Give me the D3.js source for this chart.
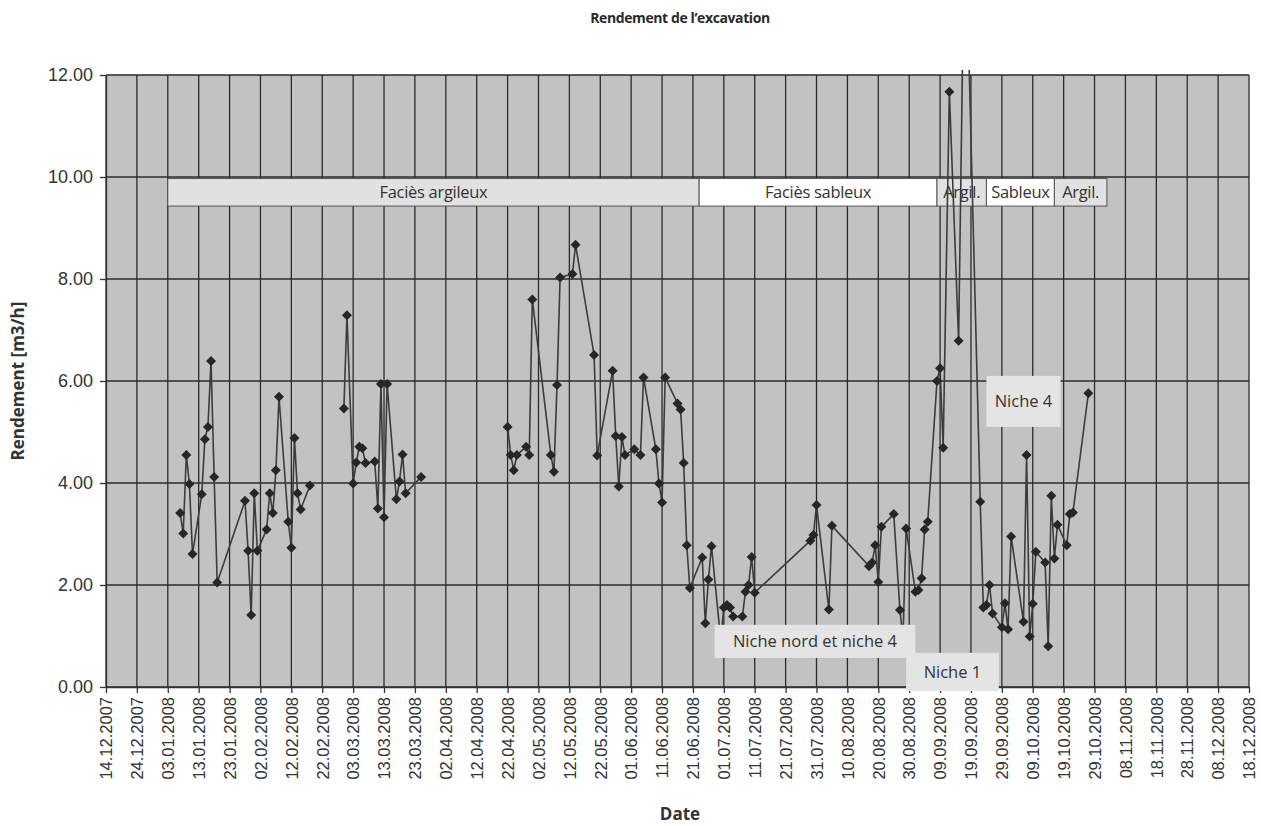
<!DOCTYPE html>
<html>
<head>
<meta charset="utf-8">
<script src="https://cdn.jsdelivr.net/npm/d3@7"></script>
<style>
  html, body { margin: 0; padding: 0; background: #ffffff; }
  svg { display: block; }
</style>
</head>
<body>
<svg id="chart" width="1261" height="826"></svg>
<script>
// ---------------- DATA ----------------
const chartTitle = "Rendement de l’excavation";
const yAxisTitle = "Rendement [m3/h]";
const xAxisTitle = "Date";

// measurement dates (null value = no data -> gap in line)
const dates = [
  "07.01.2008","08.01.2008","09.01.2008","10.01.2008","11.01.2008","14.01.2008","15.01.2008","16.01.2008","17.01.2008","18.01.2008",
  "19.01.2008","28.01.2008","29.01.2008","30.01.2008","31.01.2008","01.02.2008","04.02.2008","05.02.2008","06.02.2008","07.02.2008",
  "08.02.2008","11.02.2008","12.02.2008","13.02.2008","14.02.2008","15.02.2008","18.02.2008","22.02.2008",
  "29.02.2008","01.03.2008","03.03.2008","04.03.2008","05.03.2008","06.03.2008","07.03.2008","10.03.2008","11.03.2008","12.03.2008",
  "13.03.2008","14.03.2008","17.03.2008","18.03.2008","19.03.2008","20.03.2008","25.03.2008","10.04.2008",
  "22.04.2008","23.04.2008","24.04.2008","25.04.2008","28.04.2008","29.04.2008","30.04.2008","06.05.2008","07.05.2008","08.05.2008",
  "09.05.2008","13.05.2008","14.05.2008","20.05.2008","21.05.2008","26.05.2008","27.05.2008","28.05.2008","29.05.2008","30.05.2008",
  "02.06.2008","04.06.2008","05.06.2008","09.06.2008","10.06.2008","11.06.2008","12.06.2008","16.06.2008","17.06.2008","18.06.2008",
  "19.06.2008","20.06.2008","24.06.2008","25.06.2008","26.06.2008","27.06.2008","30.06.2008","01.07.2008","02.07.2008","03.07.2008",
  "04.07.2008","07.07.2008","08.07.2008","09.07.2008","10.07.2008","11.07.2008","29.07.2008","30.07.2008","31.07.2008","04.08.2008",
  "05.08.2008","17.08.2008","18.08.2008","19.08.2008","20.08.2008","21.08.2008","25.08.2008","27.08.2008","28.08.2008","29.08.2008",
  "01.09.2008","02.09.2008","03.09.2008","04.09.2008","05.09.2008","08.09.2008","09.09.2008","10.09.2008","12.09.2008","15.09.2008",
  "17.09.2008","22.09.2008","23.09.2008","24.09.2008","25.09.2008","26.09.2008","29.09.2008","30.09.2008","01.10.2008","02.10.2008",
  "06.10.2008","07.10.2008","08.10.2008","09.10.2008","10.10.2008","13.10.2008","14.10.2008","15.10.2008","16.10.2008","17.10.2008",
  "20.10.2008","21.10.2008","22.10.2008","27.10.2008"
];
const rendement = [
  3.41,3.01,4.55,3.98,2.61,3.78,4.86,5.10,6.39,4.12,
  2.05,3.65,2.67,1.41,3.80,2.67,3.09,3.80,3.41,4.25,
  5.69,3.24,2.73,4.88,3.80,3.48,3.95,null,
  5.46,7.29,3.99,4.40,4.71,4.68,4.39,4.42,3.50,5.94,
  3.33,5.94,3.68,4.03,4.56,3.80,4.12,null,
  5.10,4.55,4.25,4.55,4.71,4.55,7.60,4.55,4.22,5.92,
  8.03,8.10,8.67,6.51,4.54,6.20,4.92,3.93,4.90,4.55,
  4.66,4.55,6.07,4.66,3.99,3.62,6.07,5.56,5.44,4.39,
  2.78,1.94,2.54,1.25,2.11,2.76,0.92,1.56,1.61,1.56,
  1.38,1.38,1.87,2.00,2.55,1.85,2.87,2.98,3.57,1.52,
  3.16,2.37,2.44,2.78,2.06,3.14,3.39,1.51,0.95,3.11,
  1.87,1.90,2.13,3.09,3.24,6.00,6.25,4.69,11.67,6.79,
  15.5,3.63,1.56,1.61,2.00,1.44,1.17,1.64,1.13,2.95,
  1.28,4.55,0.99,1.63,2.65,2.44,0.80,3.75,2.52,3.18,
  2.78,3.39,3.42,5.76
];

// x axis tick labels (every 10 days)
const xTickStart = "14.12.2007";
const xTickEnd = "18.12.2008";
const xTickStepDays = 10;
// y axis ticks
const yTicks = [0, 2, 4, 6, 8, 10, 12];

// facies bands (date ranges)
const faciesLabels = ["Faciès argileux", "Faciès sableux", "Argil.", "Sableux", "Argil."];
const faciesKinds  = ["argileux", "sableux", "argileux", "sableux", "argileux"];
const faciesStart  = ["03.01.2008", "23.06.2008", "08.09.2008", "24.09.2008", "16.10.2008"];
const faciesEnd    = ["23.06.2008", "08.09.2008", "24.09.2008", "16.10.2008", "02.11.2008"];

// niche labels (date range, value range)
const nicheLabels = ["Niche nord et niche 4", "Niche 1", "Niche 4"];
const nicheStart  = ["28.06.2008", "29.08.2008", "24.09.2008"];
const nicheEnd    = ["01.09.2008", "28.09.2008", "18.10.2008"];
const nicheTop    = [1.22, 0.67, 6.10];
const nicheBottom = [0.57, -0.08, 5.10];

// ---------------- CHART ----------------
const parse = d3.timeParse("%d.%m.%Y");
const fmt = d3.timeFormat("%d.%m.%Y");
const W = 1261, H = 826;
const m = { left: 106, right: 1261 - 1249, top: 75, bottom: 826 - 687 };
const svg = d3.select("#chart");
const SANS = "Open Sans, sans-serif";
const ARIAL = "Liberation Sans, Arial, sans-serif";

const x = d3.scaleTime().domain([parse(xTickStart), parse(xTickEnd)]).range([m.left, W - m.right]);
const y = d3.scaleLinear().domain([0, 12]).range([H - m.bottom, m.top]);

const xTicks = d3.timeDay.range(parse(xTickStart), d3.timeDay.offset(parse(xTickEnd), 1), xTickStepDays);

const data = dates.map((d, i) => ({ date: parse(d), v: rendement[i] }));

const BG = "#c2c2c2", GRID = "#2b2b2b";

// plot background
svg.append("rect")
  .attr("x", x.range()[0]).attr("y", y(12))
  .attr("width", x.range()[1] - x.range()[0]).attr("height", y(0) - y(12))
  .attr("fill", BG);

// gridlines
const grid = svg.append("g");
grid.selectAll("line.v").data(xTicks).join("line")
  .attr("x1", d => x(d)).attr("x2", d => x(d))
  .attr("y1", y(12)).attr("y2", y(0))
  .attr("stroke", GRID).attr("stroke-width", 1.3);
grid.selectAll("line.h").data(yTicks).join("line")
  .attr("x1", x.range()[0]).attr("x2", x.range()[1])
  .attr("y1", d => y(d)).attr("y2", d => y(d))
  .attr("stroke", GRID).attr("stroke-width", 1.3);

// facies bands
const fill = { argileux: "#e1e1e1", sableux: "#ffffff" };
const fg = svg.append("g");
faciesLabels.forEach((lab, i) => {
  const x0 = x(parse(faciesStart[i])), x1 = x(parse(faciesEnd[i]));
  const y0 = y(9.97), y1 = y(9.43);
  fg.append("rect").attr("x", x0).attr("y", y0).attr("width", x1 - x0).attr("height", y1 - y0)
    .attr("fill", fill[faciesKinds[i]]).attr("stroke", "#555").attr("stroke-width", 1);
  fg.append("text").attr("x", (x0 + x1) / 2).attr("y", (y0 + y1) / 2).attr("dy", "0.36em")
    .attr("text-anchor", "middle").attr("font-family", SANS)
    .attr("font-size", 16.5).attr("letter-spacing", -0.3).attr("fill", "#333").text(lab);
});

// clip for series (allow slight overshoot at top like the original)
svg.append("clipPath").attr("id", "clip").append("rect")
  .attr("x", x.range()[0]).attr("y", y(12) - 5)
  .attr("width", x.range()[1] - x.range()[0]).attr("height", y(0) - y(12) + 5);

const line = d3.line().defined(d => d.v !== null).x(d => x(d.date)).y(d => y(d.v));
const series = svg.append("g").attr("clip-path", "url(#clip)");
series.append("path").datum(data).attr("d", line)
  .attr("fill", "none").attr("stroke", "#3c3c3c").attr("stroke-width", 1.6);
const r = 5;
series.selectAll("path.mk").data(data.filter(d => d.v !== null)).join("path")
  .attr("class", "mk")
  .attr("transform", d => `translate(${x(d.date)},${y(d.v)})`)
  .attr("d", `M0,${-r}L${r},0L0,${r}L${-r},0Z`)
  .attr("fill", "#262626");

// axes
const xAxis = svg.append("g").attr("transform", `translate(0,${y(0)})`)
  .call(d3.axisBottom(x).tickValues(xTicks).tickFormat(fmt).tickSize(6).tickSizeOuter(0));
xAxis.select(".domain").attr("stroke", "#333").attr("stroke-width", 1.3);
xAxis.selectAll(".tick line").attr("stroke", "#333").attr("stroke-width", 1.3);
xAxis.selectAll(".tick text")
  .attr("font-family", ARIAL).attr("font-size", 16.5).attr("fill", "#333")
  .attr("text-anchor", "end")
  .attr("transform", "rotate(-90)")
  .attr("x", -10).attr("y", 0).attr("dy", "0.35em");

const yAxis = svg.append("g").attr("transform", `translate(${x.range()[0]},0)`)
  .call(d3.axisLeft(y).tickValues(yTicks).tickFormat(d3.format(".2f")).tickSize(6).tickSizeOuter(0));
yAxis.select(".domain").attr("stroke", "#333").attr("stroke-width", 1.3);
yAxis.selectAll(".tick line").attr("stroke", "#333").attr("stroke-width", 1.3);
yAxis.selectAll(".tick text")
  .attr("font-family", ARIAL).attr("font-size", 18).attr("fill", "#333")
  .attr("x", -13);

// niche label boxes (drawn over the axis line like the original)
const ng = svg.append("g");
nicheLabels.forEach((lab, i) => {
  const x0 = x(parse(nicheStart[i])), x1 = x(parse(nicheEnd[i]));
  const y0 = y(nicheTop[i]), y1 = y(nicheBottom[i]);
  ng.append("rect").attr("x", x0).attr("y", y0).attr("width", x1 - x0).attr("height", y1 - y0)
    .attr("fill", "#e4e4e4");
  ng.append("text").attr("x", (x0 + x1) / 2).attr("y", (y0 + y1) / 2).attr("dy", "0.36em")
    .attr("text-anchor", "middle").attr("font-family", SANS)
    .attr("font-size", 16.5).attr("fill", "#333").text(lab);
});

// titles
svg.append("text").attr("x", 680).attr("y", 23).attr("text-anchor", "middle")
  .attr("font-family", SANS).attr("font-weight", "bold").attr("font-size", 14)
  .attr("letter-spacing", -0.4).attr("fill", "#2a2a2a").text(chartTitle);
svg.append("text").attr("x", 680).attr("y", 820).attr("text-anchor", "middle")
  .attr("font-family", SANS).attr("font-weight", "bold").attr("font-size", 17)
  .attr("fill", "#333").text(xAxisTitle);
svg.append("text").attr("transform", `translate(24,${(y(0) + y(12)) / 2}) rotate(-90)`)
  .attr("text-anchor", "middle")
  .attr("font-family", SANS).attr("font-weight", "bold").attr("font-size", 17)
  .attr("fill", "#333").text(yAxisTitle);
</script>
</body>
</html>
